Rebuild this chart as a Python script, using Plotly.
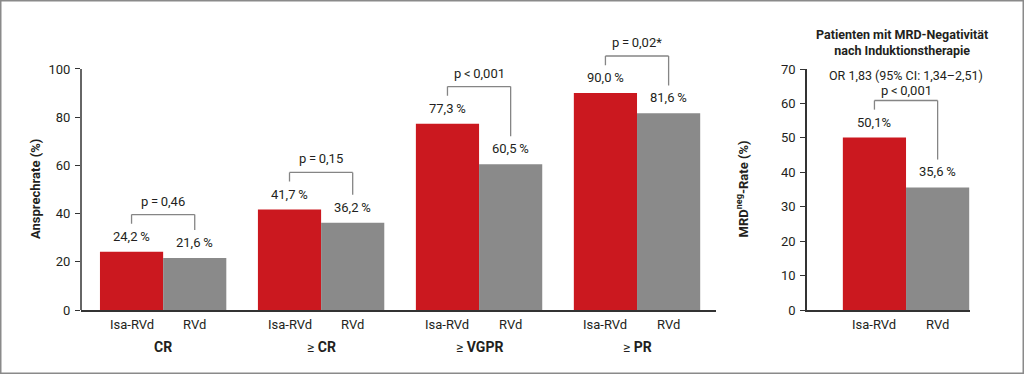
import plotly.graph_objects as go

# ---------------- data ----------------
categories = ["CR", "≥CR", "≥VGPR", "≥PR"]
cat_labels = ["<b>CR</b>", "≥ <b>CR</b>", "≥ <b>VGPR</b>", "≥ <b>PR</b>"]
arms = ["Isa-RVd", "RVd"]
isa_rvd = [24.2, 41.7, 77.3, 90.0]
rvd = [21.6, 36.2, 60.5, 81.6]
p_values = ["p\u2009=\u20090,46", "p\u2009=\u20090,15", "p\u2009<\u20090,001", "p\u2009=\u20090,02*"]

mrd_cat = ["MRD"]
mrd_isa = [50.1]
mrd_rvd = [35.6]
mrd_labels = ["50,1%", "35,6\u2009%"]
mrd_p = "p\u2009<\u20090,001"
mrd_or = "OR 1,83 (95% CI: 1,34–2,51)"
mrd_title = "<b>Patienten mit MRD-Negativität<br>nach Induktionstherapie</b>"

RED = "#CB181F"
GRAY = "#8A8A8A"
TXT = "#231F20"
AX = "#333333"
BR = "#858585"
FONT = "Roboto"

def fmt(v):
    return f"{v:.1f}".replace(".", ",") + "\u2009%"

fig = go.Figure()
fig.add_trace(go.Bar(x=categories, y=isa_rvd, marker_color=RED, xaxis="x", yaxis="y", name=arms[0]))
fig.add_trace(go.Bar(x=categories, y=rvd, marker_color=GRAY, xaxis="x", yaxis="y", name=arms[1]))
fig.add_trace(go.Bar(x=mrd_cat, y=mrd_isa, marker_color=RED, xaxis="x2", yaxis="y2", name=arms[0]))
fig.add_trace(go.Bar(x=mrd_cat, y=mrd_rvd, marker_color=GRAY, xaxis="x2", yaxis="y2", name=arms[1]))

annotations = []
shapes = []

def txt(x, y, text, xref, yref, yanchor="bottom", yshift=0, size=13, **kw):
    annotations.append(dict(x=x, y=y, xref=xref, yref=yref, text=text, showarrow=False,
                            yanchor=yanchor, yshift=yshift,
                            font=dict(family=FONT, size=size, color=TXT), **kw))

def line(x0, y0, x1, y1, xref, yref, color=BR, width=1.3):
    shapes.append(dict(type="line", x0=x0, y0=y0, x1=x1, y1=y1, xref=xref, yref=yref,
                       line=dict(color=color, width=width)))

# left panel
LEG, TOP = 11.6, 15.4
for i in range(len(categories)):
    a, b = isa_rvd[i], rvd[i]
    txt(i - 0.2, a, fmt(a), "x", "y", yshift=6)
    txt(i + 0.2, b, fmt(b), "x", "y", yshift=6)
    txt(i - 0.2, 0, arms[0], "x", "y", yanchor="top", yshift=-5)
    txt(i + 0.2, 0, arms[1], "x", "y", yanchor="top", yshift=-5)
    txt(i, 0, cat_labels[i], "x", "y", yanchor="top", yshift=-27, size=14)
    top = max(a, b) + TOP
    line(i - 0.2, a + LEG, i - 0.2, top, "x", "y")
    line(i + 0.2, b + LEG, i + 0.2, top, "x", "y")
    line(i - 0.2, top, i + 0.2, top, "x", "y")
    txt(i, top, p_values[i], "x", "y", yshift=4)

# left y axis line only 0..100
line(0, 0, 0, 100, "x domain", "y", color=AX, width=1.5)

# right panel
LEG2, TOP2 = 8.1, 10.75
a, b = mrd_isa[0], mrd_rvd[0]
txt(-0.2, a, mrd_labels[0], "x2", "y2", yshift=6)
txt(0.2, b, mrd_labels[1], "x2", "y2", yshift=6)
txt(-0.2, 0, arms[0], "x2", "y2", yanchor="top", yshift=-5)
txt(0.2, 0, arms[1], "x2", "y2", yanchor="top", yshift=-5)
top = max(a, b) + TOP2
line(-0.2, a + LEG2, -0.2, top, "x2", "y2")
line(0.2, b + LEG2, 0.2, top, "x2", "y2")
line(-0.2, top, 0.2, top, "x2", "y2")
txt(0, top, mrd_p, "x2", "y2", yshift=1)
txt(0, top, mrd_or, "x2", "y2", yshift=16, size=12.5)
txt(0.881, 0.886, mrd_title, "paper", "paper", yanchor="middle", size=12.5, xanchor="center")

# axis titles
txt(26 / 1024, 0.4933, "<b>Ansprechrate (%)</b>", "paper", "paper", yanchor="middle", size=13, textangle=-90)
txt(752 / 1024, 0.4933, "<b>MRD<sup>neg</sup>-Rate (%)</b>", "paper", "paper", yanchor="middle", size=13, textangle=-90)

# outer frame
shapes.append(dict(type="rect", xref="paper", yref="paper", x0=0, y0=0, x1=1, y1=1,
                   line=dict(color="#8A8A8A", width=3)))

tickfont = dict(family=FONT, size=13, color=TXT)
fig.update_layout(
    template="none",
    width=1024, height=374,
    margin=dict(l=0, r=0, t=0, b=0, pad=0, autoexpand=False),
    paper_bgcolor="white", plot_bgcolor="white",
    showlegend=False,
    barmode="group", bargap=0.2, bargroupgap=0,
    font=dict(family=FONT, color=TXT),
    xaxis=dict(domain=[81 / 1024, 716 / 1024], type="category", range=[-0.52, 3.5],
               showline=True, linecolor=AX, linewidth=1.5, showticklabels=False,
               ticks="", showgrid=False, zeroline=False, automargin=False),
    yaxis=dict(domain=[0.1711, 0.9122], range=[0, 115], tickvals=[0, 20, 40, 60, 80, 100],
               ticks="outside", ticklen=5, tickcolor=AX, tickwidth=1.2, showline=False,
               showgrid=False, zeroline=False, tickfont=tickfont, ticklabelstandoff=2,
               automargin=False),
    xaxis2=dict(domain=[807 / 1024, 970 / 1024], type="category", range=[-0.627, 0.405],
                anchor="y2", showline=True, linecolor=AX, linewidth=1.5, showticklabels=False,
                ticks="", showgrid=False, zeroline=False, automargin=False),
    yaxis2=dict(domain=[0.1711, 0.8155], range=[0, 70], tickvals=[0, 10, 20, 30, 40, 50, 60, 70],
                anchor="x2", ticks="outside", ticklen=5, tickcolor=AX, tickwidth=1.2,
                showline=True, linecolor=AX, linewidth=1.5,
                showgrid=False, zeroline=False, tickfont=tickfont, ticklabelstandoff=2,
                automargin=False),
    annotations=annotations,
    shapes=shapes,
)

fig.write_html("out.html", config={"displayModeBar": False},
               post_script="document.body.style.margin='0';document.body.style.overflow='hidden';")
